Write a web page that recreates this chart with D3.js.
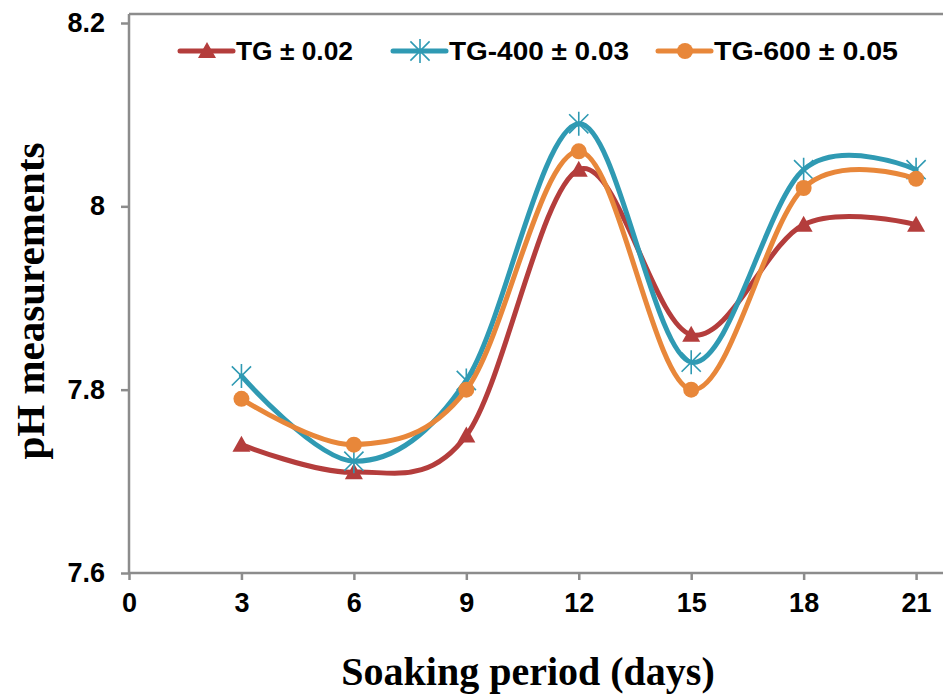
<!DOCTYPE html>
<html>
<head>
<meta charset="utf-8">
<script src="https://cdn.jsdelivr.net/npm/d3@7"></script>
<style>
  body { margin: 0; background: #fff; }
  svg { display: block; }
</style>
</head>
<body>
<svg class="chart" width="943" height="696"></svg>
<script>
// soaking days and pH readings
const days = [3, 6, 9, 12, 15, 18, 21]
const tg = [7.74, 7.71, 7.75, 8.04, 7.86, 7.98, 7.98]
const tg400 = [7.815, 7.722, 7.81, 8.09, 7.83, 8.04, 8.04]
const tg600 = [7.79, 7.74, 7.80, 8.06, 7.80, 8.02, 8.03]
const seriesNames = ['TG ± 0.02', 'TG-400 ± 0.03', 'TG-600 ± 0.05']
const xTicks = [0, 3, 6, 9, 12, 15, 18, 21]
const yTicks = [7.6, 7.8, 8, 8.2]

const colors = ['#b43d3c', '#2f9ab3', '#e8873a']
const markers = ['triangle', 'star', 'circle']
const series = [tg, tg400, tg600].map((vals, i) => ({
  name: seriesNames[i],
  color: colors[i],
  marker: markers[i],
  points: days.map((d, j) => ({ day: d, ph: vals[j] }))
}))

const svg = d3.select('svg.chart')
const x = d3.scaleLinear().domain([0, 22]).range([129, 129 + 22 * 37.48])
const y = d3.scaleLinear().domain([7.6, 8.2]).range([573, 23])

const axisColor = '#8c8c8c'
const tickFont = '"Liberation Sans", Arial, sans-serif'

// frame top line
svg.append('line')
  .attr('x1', 129).attr('x2', 943)
  .attr('y1', 14).attr('y2', 14)
  .attr('stroke', axisColor).attr('stroke-width', 2.5)

const xAxis = svg.append('g')
  .attr('transform', `translate(0, ${y(7.6)})`)
  .call(d3.axisBottom(x).tickValues(xTicks).tickSize(7).tickPadding(13).tickFormat(d3.format('d')))
xAxis.select('.domain').attr('stroke', axisColor).attr('stroke-width', 2.5)
  .attr('d', `M129,0H943`)
xAxis.selectAll('.tick line').attr('stroke', axisColor).attr('stroke-width', 2.5)
xAxis.selectAll('.tick text')
  .attr('fill', '#000').attr('font-size', 27).attr('font-weight', 'bold')
  .attr('font-family', tickFont)

const yAxis = svg.append('g')
  .attr('transform', `translate(${x(0)}, 0)`)
  .call(d3.axisLeft(y).tickValues(yTicks).tickSize(8).tickPadding(16).tickFormat(d => d3.format('')(d)))
yAxis.select('.domain').attr('stroke', axisColor).attr('stroke-width', 2.5)
  .attr('d', `M0,14V${y(7.6)}`)
yAxis.selectAll('.tick line').attr('stroke', axisColor).attr('stroke-width', 2.5)
yAxis.selectAll('.tick text')
  .attr('fill', '#000').attr('font-size', 27).attr('font-weight', 'bold')
  .attr('font-family', tickFont)

// axis titles
svg.append('text')
  .attr('x', 528).attr('y', 685)
  .attr('text-anchor', 'middle')
  .attr('font-family', '"Liberation Serif", "Times New Roman", serif')
  .attr('font-weight', 'bold').attr('font-size', 40)
  .text('Soaking period (days)')

svg.append('text')
  .attr('transform', 'translate(44, 301) rotate(-90)')
  .attr('text-anchor', 'middle')
  .attr('font-family', '"Liberation Serif", "Times New Roman", serif')
  .attr('font-weight', 'bold').attr('font-size', 41)
  .text('pH measurements')

const drawMarker = (g, type, color) => {
  if (type === 'triangle') {
    g.append('path').attr('d', 'M0,-9L9,7L-9,7Z').attr('fill', color)
  } else if (type === 'circle') {
    g.append('circle').attr('r', 8).attr('fill', color)
  } else {
    const r = 12
    g.append('path')
      .attr('d', `M0,${-r}V${r}M${-r * 0.8},${-r * 0.8}L${r * 0.8},${r * 0.8}M${r * 0.8},${-r * 0.8}L${-r * 0.8},${r * 0.8}`)
      .attr('stroke', color).attr('stroke-width', 1.6).attr('fill', 'none')
  }
}

const line = d3.line()
  .x(d => x(d.day))
  .y(d => y(d.ph))
  .curve(d3.curveCardinal.tension(0))

series.forEach(s => {
  const g = svg.append('g')
  g.append('path')
    .datum(s.points)
    .attr('d', line)
    .attr('fill', 'none')
    .attr('stroke', s.color)
    .attr('stroke-width', 5)
    .attr('stroke-linecap', 'round')
  g.selectAll('g.mk').data(s.points).enter().append('g')
    .attr('class', 'mk')
    .attr('transform', d => `translate(${x(d.day)}, ${y(d.ph)})`)
    .each(function () { drawMarker(d3.select(this), s.marker, s.color) })
})

// legend
const legendX = [180, 393, 658]
const legendTextW = [117, 180, 184]
series.forEach((s, i) => {
  const g = svg.append('g').attr('transform', `translate(${legendX[i]}, 51)`)
  g.append('line').attr('x1', 0).attr('x2', 53).attr('y1', 0).attr('y2', 0)
    .attr('stroke', s.color).attr('stroke-width', 5).attr('stroke-linecap', 'round')
  drawMarker(g.append('g').attr('transform', 'translate(27, 0)'), s.marker, s.color)
  g.append('text')
    .attr('x', 56).attr('y', 9)
    .attr('font-family', tickFont).attr('font-weight', 'bold').attr('font-size', 25)
    .attr('textLength', legendTextW[i]).attr('lengthAdjust', 'spacingAndGlyphs')
    .attr('fill', '#000')
    .text(s.name)
})
</script>
</body>
</html>
